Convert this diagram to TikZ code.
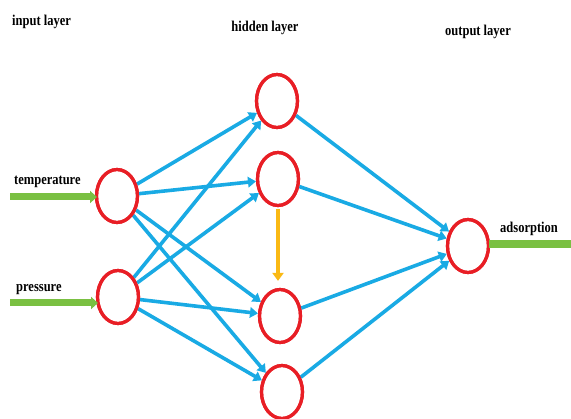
\documentclass[tikz,border=0pt]{standalone}
\usepackage{fontspec}
\setmainfont{Liberation Serif}
\usetikzlibrary{shapes.geometric,arrows.meta}
\definecolor{nnred}{RGB}{232,30,37}
\definecolor{nnblue}{RGB}{25,170,228}
\definecolor{nngreen}{RGB}{122,192,66}
\definecolor{nnorange}{RGB}{250,185,20}
\newcommand{\lbl}[1]{\scalebox{1}[1.2]{\fontsize{12.5}{14}\selectfont\bfseries #1}}
\begin{document}
\begin{tikzpicture}[x=1pt,y=-1pt,
  neuron/.style={ellipse,draw=nnred,line width=3.2pt,fill=white,minimum width=41pt,minimum height=53pt,inner sep=0pt},
  conn/.style={draw=nnblue,line width=3.6pt,-{Triangle[length=8pt,width=10.5pt]}},
  feed/.style={draw=nngreen,line width=7pt,-{Triangle[length=7pt,width=12pt]}},
  lab/.style={inner sep=0pt}]
\useasboundingbox (0,0) rectangle (571,419);
\fill[white] (0,0) rectangle (571,419);
% neurons
\node[neuron] (i1) at (117,196) {};
\node[neuron] (i2) at (118,297) {};
\node[neuron] (h1) at (277,101) {};
\node[neuron] (h2) at (278,179) {};
\node[neuron] (h3) at (280,316) {};
\node[neuron] (h4) at (282,392) {};
\node[neuron] (o) at (468,246) {};
% labels
\node[lab,anchor=west] (tin) at (12,22) {\lbl{input layer}};
\node[lab] (thid) at (265,28) {\lbl{hidden layer}};
\node[lab] (tout) at (478,32) {\lbl{output layer}};
\node[lab,anchor=west] (ltemp) at (14,182) {\lbl{temperature}};
\node[lab,anchor=west] (lpres) at (16,290) {\lbl{pressure}};
\node[lab,anchor=west] (lads) at (500,229) {\lbl{adsorption}};
% connections
\foreach \a in {i1,i2}{
  \foreach \b in {h1,h2,h3,h4}{
    \draw[conn] (\a) -- (\b);
  }
}
\foreach \b in {h1,h2,h3,h4}{
  \draw[conn] (\b) -- (o);
}
% redraw neuron outlines on top
\foreach \n in {i1,i2,h1,h2,h3,h4,o}{
  \draw[nnred,line width=3.2pt] (\n.center) ellipse [x radius=20.5pt,y radius=26.5pt];
}
% orange arrow
\draw[draw=nnorange,line width=3.6pt,-{Triangle[length=8pt,width=11pt]},shorten >=7pt,shorten <=2pt] (h2.south) -- (h2.south |- h3.north);
% green feeds
\coordinate (s1) at (10,197);
\coordinate (s2) at (10,303);
\coordinate (e1) at (97,197);
\coordinate (e2) at (98,303);
\coordinate (oe) at (571,244);
\coordinate (os) at (489,244);
\draw[feed] (s1) -- (e1);
\draw[feed] (s2) -- (e2);
\draw[draw=nngreen,line width=8.5pt] (os) -- (oe);
\end{tikzpicture}
\end{document}
